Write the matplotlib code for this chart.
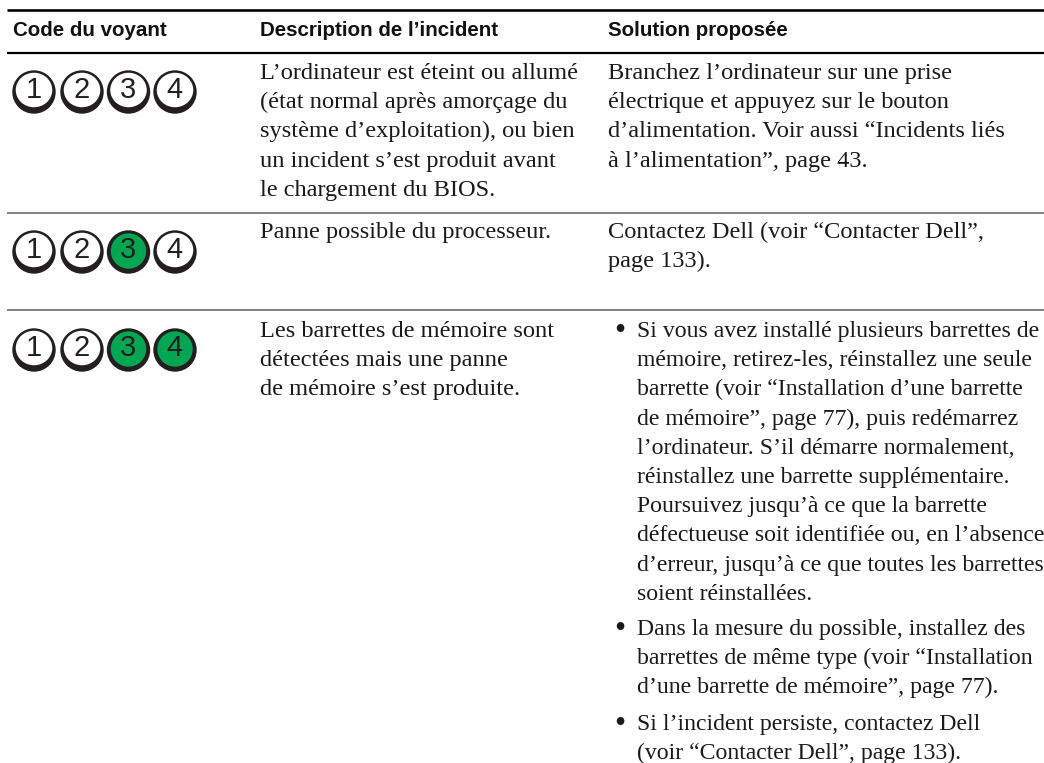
import matplotlib
matplotlib.use("Agg")
import matplotlib.pyplot as plt
from matplotlib.patches import Circle, Ellipse

# Table content
headers = ["Code du voyant", "Description de l’incident", "Solution proposée"]

# which LEDs are lit in each row
led_labels = ["1", "2", "3", "4"]
led_states = [[0, 0, 0, 0], [0, 0, 1, 0], [0, 0, 1, 1]]

desc_rows = [
    ["L’ordinateur est éteint ou allumé",
     "(état normal après amorçage du",
     "système d’exploitation), ou bien",
     "un incident s’est produit avant",
     "le chargement du BIOS."],
    ["Panne possible du processeur."],
    ["Les barrettes de mémoire sont",
     "détectées mais une panne",
     "de mémoire s’est produite."],
]

sol_rows = [
    ["Branchez l’ordinateur sur une prise",
     "électrique et appuyez sur le bouton",
     "d’alimentation. Voir aussi “Incidents liés",
     "à l’alimentation”, page 43."],
    ["Contactez Dell (voir “Contacter Dell”,",
     "page 133)."],
]

bullets = [
    ["Si vous avez installé plusieurs barrettes de",
     "mémoire, retirez-les, réinstallez une seule",
     "barrette (voir “Installation d’une barrette",
     "de mémoire”, page 77), puis redémarrez",
     "l’ordinateur. S’il démarre normalement,",
     "réinstallez une barrette supplémentaire.",
     "Poursuivez jusqu’à ce que la barrette",
     "défectueuse soit identifiée ou, en l’absence",
     "d’erreur, jusqu’à ce que toutes les barrettes",
     "soient réinstallées."],
    ["Dans la mesure du possible, installez des",
     "barrettes de même type (voir “Installation",
     "d’une barrette de mémoire”, page 77)."],
    ["Si l’incident persiste, contactez Dell",
     "(voir “Contacter Dell”, page 133)."],
]

GREEN = "#00a651"
DARK = "#231f20"
GREY = "#808080"
BODY = 17.6
LIST_BODY = 17.1
LINE = 29.2

fig = plt.figure(figsize=(10.44, 7.63), dpi=100)
ax = fig.add_axes([0, 0, 1, 1])
ax.set_xlim(0, 1044)
ax.set_ylim(763, 0)
ax.axis("off")

# rules
ax.plot([7, 1044], [10, 10], color="black", lw=1.9, solid_capstyle="butt")
ax.plot([7, 1044], [52.5, 52.5], color="black", lw=1.6, solid_capstyle="butt")
for y in [213, 309.5]:
    ax.plot([7, 1044], [y, y], color=GREY, lw=1.4, solid_capstyle="butt")

# header
for x, h in zip([13, 260, 608], headers):
    ax.text(x, 36, h, family="Liberation Sans", weight="bold", fontsize=14.8,
            va="baseline", ha="left", color="#111111")


def draw_led(cx, cy, label, lit):
    ax.add_patch(Circle((cx, cy), 21.7, fc=DARK, ec="none"))
    if lit:
        ax.add_patch(Circle((cx, cy - 1), 17.7, fc=GREEN, ec="none"))
    else:
        ax.add_patch(Ellipse((cx, cy - 2), 36.5, 34.5, fc="white", ec="none"))
    ax.text(cx - 0.5, cy + 6, label, family="Liberation Sans", fontsize=21,
            ha="center", va="baseline", color=DARK)


for cy, states in zip([92, 252, 350], led_states):
    for cx, label, lit in zip([34, 82, 128.5, 175], led_labels, states):
        draw_led(cx, cy, label, lit)


def draw_lines(x, y, lines, size=BODY):
    # y is the baseline of the first line
    for i, s in enumerate(lines):
        ax.text(x, y + i * LINE, s, family="Liberation Serif", fontsize=size,
                va="baseline", ha="left", color="#1a1a1a")


for y, lines in zip([79, 238, 337], desc_rows):
    draw_lines(260, y, lines)
for y, lines in zip([79, 238], sol_rows):
    draw_lines(608, y, lines)

for y, lines in zip([337, 635, 730], bullets):
    ax.text(614, y + 2, "•", family="Liberation Serif", fontsize=23, va="baseline",
            ha="left", color="#1a1a1a")
    draw_lines(637, y, lines, LIST_BODY)

fig.savefig("out.png", dpi=100, facecolor="white")
